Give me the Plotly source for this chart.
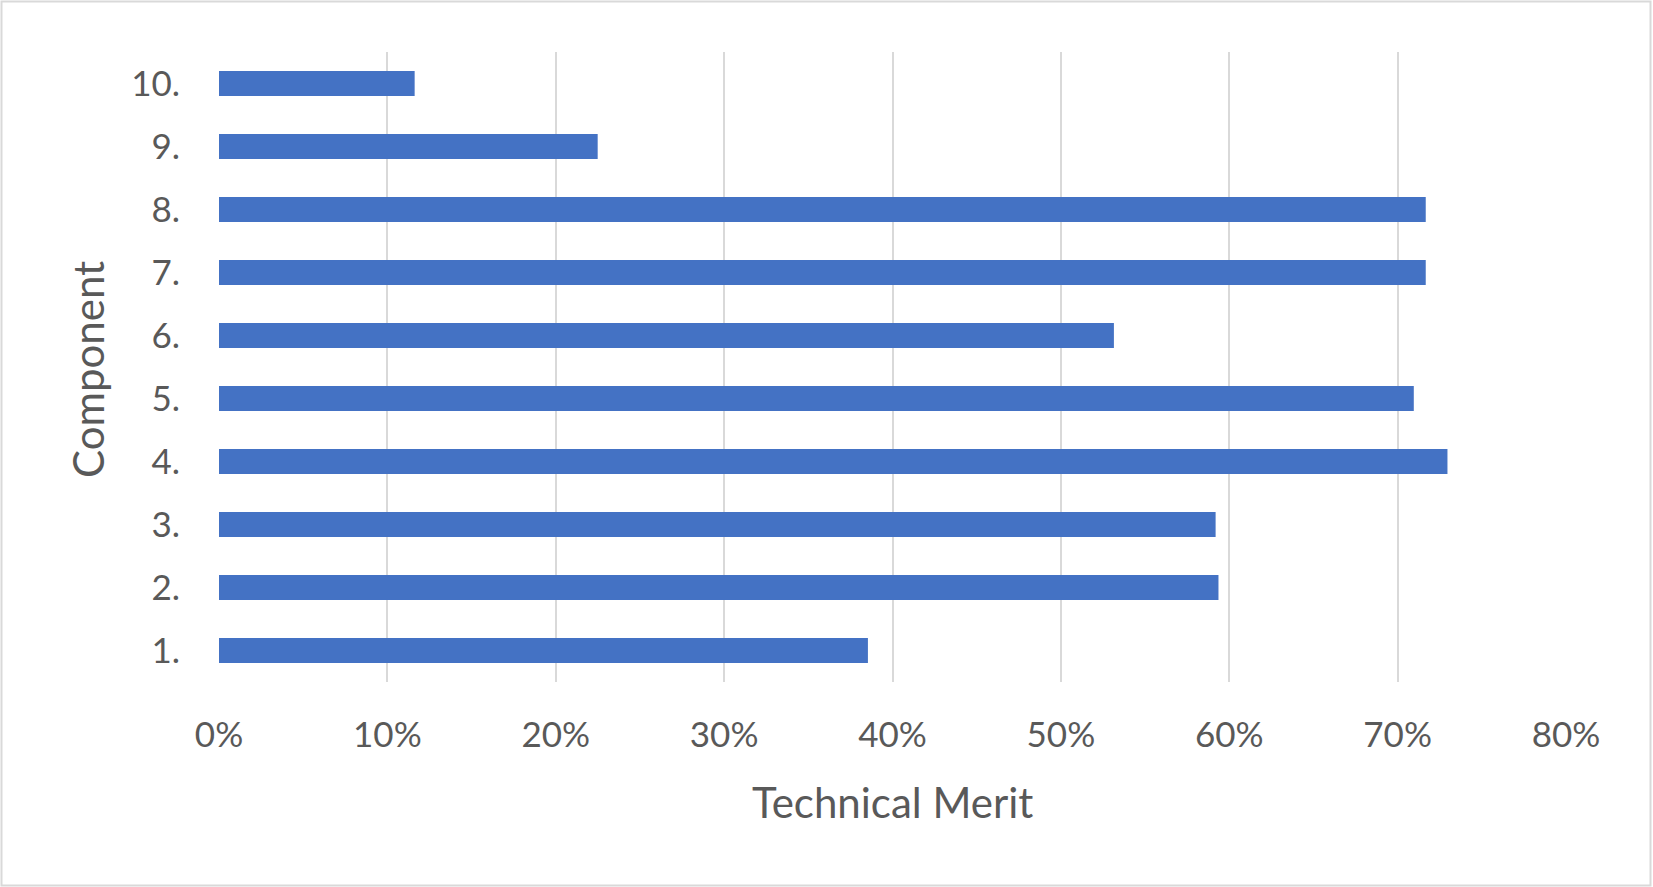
import plotly.graph_objects as go

categories = ["1.", "2.", "3.", "4.", "5.", "6.", "7.", "8.", "9.", "10."]
technical_merit = [0.3854, 0.5936, 0.5919, 0.7296, 0.7096, 0.5315, 0.7167, 0.7167, 0.2249, 0.1162]
x_ticks = [0, 0.1, 0.2, 0.3, 0.4, 0.5, 0.6, 0.7, 0.8]

W, H = 1653, 887
L, R, T, B = 219, 87, 52, 205
pw, ph = W - L - R, H - T - B

def px_x(p):
    return (p - L) / pw

def px_y(p):
    return (H - B - p) / ph

FONT = "Lato"
GREY = "#595959"

fig = go.Figure(go.Bar(
    y=categories, x=technical_merit, orientation="h",
    marker=dict(color="#4472C4", line=dict(width=0)),
))

fig.update_layout(
    width=W, height=H,
    margin=dict(l=L, r=R, t=T, b=B, pad=0),
    paper_bgcolor="white", plot_bgcolor="white",
    bargap=0.6, showlegend=False,
    font=dict(family=FONT, color=GREY),
    xaxis=dict(
        range=[0, 0.8], tickvals=x_ticks, tickformat=".0%",
        showgrid=True, gridcolor="#d9d9d9", gridwidth=2,
        zeroline=False, showline=False, ticks="",
        tickfont=dict(family=FONT, size=35, color=GREY),
        ticklabelstandoff=29, fixedrange=True,
    ),
    yaxis=dict(
        type="category", categoryorder="array", categoryarray=categories,
        showgrid=False, zeroline=False, showline=False, ticks="",
        tickfont=dict(family=FONT, size=35, color=GREY),
        ticklabelstandoff=38, fixedrange=True,
    ),
    annotations=[
        dict(text="Technical Merit", xref="paper", yref="paper",
             x=0.5, y=px_y(802), xanchor="center", yanchor="middle",
             showarrow=False, font=dict(family=FONT, size=42, color=GREY)),
        dict(text="Component", xref="paper", yref="paper",
             x=px_x(88), y=px_y(370), xanchor="center", yanchor="middle",
             textangle=-90, showarrow=False,
             font=dict(family=FONT, size=42, color=GREY)),
    ],
    shapes=[
        dict(type="rect", xref="paper", yref="paper",
             x0=px_x(1.5), x1=px_x(1650.5), y0=px_y(885.5), y1=px_y(1.5),
             line=dict(color="#d9d9d9", width=2), layer="below"),
    ],
)

fig.write_html("out.html", config={"displayModeBar": False},
               post_script="document.body.style.margin='0';")
